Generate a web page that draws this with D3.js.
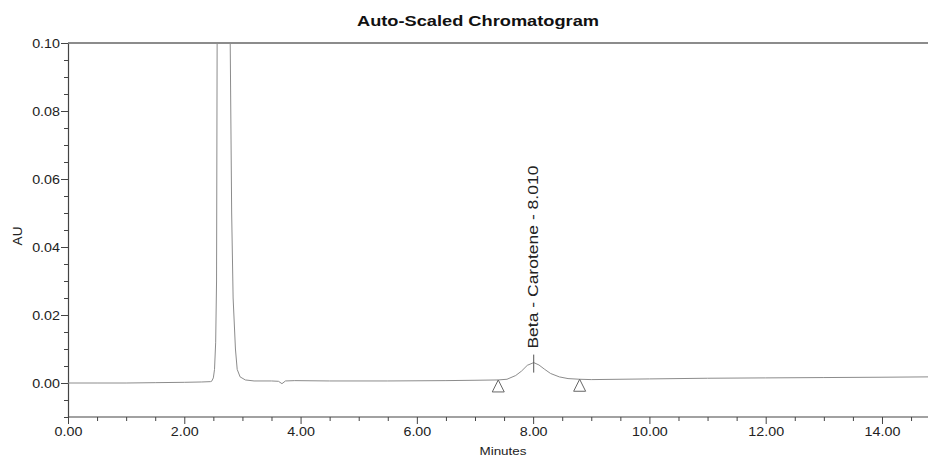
<!DOCTYPE html>
<html>
<head>
<meta charset="utf-8">
<script src="https://cdn.jsdelivr.net/npm/d3@7"></script>
<style>
  html, body { margin: 0; padding: 0; background: #fff; }
  svg { display: block; font-family: "Liberation Sans", Arial, sans-serif; }
</style>
</head>
<body>
<svg id="chart" width="928" height="458"></svg>
<script>
// ---- data ----
const title = "Auto-Scaled Chromatogram";
const xLabel = "Minutes";
const yLabel = "AU";

const timeMin = [0.00, 0.50, 1.00, 1.50, 2.00, 2.30, 2.45, 2.47, 2.50, 2.52, 2.54, 2.555, 2.565, 2.60, 2.68, 2.75, 2.79, 2.815, 2.84, 2.88, 2.91, 2.96, 3.05, 3.20, 3.50, 3.62, 3.68, 3.74, 3.90, 4.50, 5.50, 6.50, 7.00, 7.40, 7.55, 7.70, 7.80, 7.90, 8.01, 8.10, 8.20, 8.30, 8.45, 8.60, 8.80, 9.00, 10.00, 11.00, 12.00, 13.00, 14.00, 14.80];
const absAU   = [0.0000, 0.0000, 0.0000, 0.0001, 0.0002, 0.0003, 0.0004, 0.0005, 0.0015, 0.0040, 0.0120, 0.0300, 0.1000, 0.2000, 0.2500, 0.2000, 0.1000, 0.0500, 0.0250, 0.0100, 0.0040, 0.0018, 0.0009, 0.0006, 0.0006, 0.0005, -0.0002, 0.0006, 0.0007, 0.0006, 0.0006, 0.0007, 0.0008, 0.0009, 0.0011, 0.0022, 0.0035, 0.0052, 0.0060, 0.0053, 0.0040, 0.0028, 0.0018, 0.0013, 0.0011, 0.0010, 0.0012, 0.0014, 0.0015, 0.0016, 0.0017, 0.0018];

const peakNames = ["Beta - Carotene - 8.010"];
const peakTimes = [8.01];
const peakHeights = [0.0060];
const markerTimes = [7.40, 8.80];
const markerAU = [0.0009, 0.0011];

const xMajorTicks = [0, 2, 4, 6, 8, 10, 12, 14];
const yMajorTicks = [0.00, 0.02, 0.04, 0.06, 0.08, 0.10];

// ---- layout ----
const svg = d3.select("#chart");
const mLeft = 68, mRight = 928.5, mTop = 43, mBottom = 417;
const x = d3.scaleLinear().domain([0, 14.8]).range([mLeft, mRight]);
const y = d3.scaleLinear().domain([-0.01, 0.10]).range([mBottom, mTop]);
const stretch = 1.1;

const xMinor = d3.range(0, 14.8, 0.5).filter(v => Math.abs(v % 2) > 1e-9);
const yMinor = d3.range(-0.01, 0.1001, 0.005).filter(v => !yMajorTicks.some(m => Math.abs(m - v) < 1e-9));

// clip
svg.append("defs").append("clipPath").attr("id", "clip")
  .append("rect").attr("x", mLeft).attr("y", mTop).attr("width", 928 - mLeft).attr("height", mBottom - mTop);

// minor ticks
const axisColor = "#444";
svg.append("g").attr("transform", `translate(0,${mBottom})`)
  .call(d3.axisBottom(x).tickValues(xMinor).tickSize(4).tickFormat(""))
  .call(g => g.select(".domain").remove())
  .call(g => g.selectAll("line").attr("stroke", axisColor));
svg.append("g").attr("transform", `translate(${mLeft},0)`)
  .call(d3.axisLeft(y).tickValues(yMinor).tickSize(4).tickFormat(""))
  .call(g => g.select(".domain").remove())
  .call(g => g.selectAll("line").attr("stroke", axisColor));

// major axes
const gx = svg.append("g").attr("transform", `translate(0,${mBottom})`)
  .call(d3.axisBottom(x).tickValues(xMajorTicks).tickSize(7).tickPadding(3).tickFormat(d3.format(".2f")).tickSizeOuter(0));
const gy = svg.append("g").attr("transform", `translate(${mLeft},0)`)
  .call(d3.axisLeft(y).tickValues(yMajorTicks).tickSize(7).tickPadding(1).tickFormat(d3.format(".2f")).tickSizeOuter(0));
[gx, gy].forEach(g => {
  g.select(".domain").attr("stroke", axisColor).attr("stroke-width", 1.2);
  g.selectAll("line").attr("stroke", axisColor);
  g.selectAll("text").attr("fill", "#222").style("font-size", "13px")
    .style("font-family", '"Liberation Sans", Arial, sans-serif');
});
gy.selectAll("text").attr("x", -8 / stretch).attr("transform", `scale(${stretch},1)`);
gx.selectAll("text").attr("transform", `scale(${stretch},1)`);
// extend bottom domain line to the right edge
gx.select(".domain").attr("d", `M${mLeft},0H928`);

// top frame line
svg.append("line").attr("x1", mLeft).attr("x2", 928).attr("y1", mTop).attr("y2", mTop)
  .attr("stroke", "#666").attr("stroke-width", 1.4);

// trace
const pts = timeMin.map((t, i) => [t, absAU[i]]);
svg.append("path").datum(pts)
  .attr("clip-path", "url(#clip)")
  .attr("fill", "none").attr("stroke", "#8c8c8c").attr("stroke-width", 1)
  .attr("d", d3.line().x(d => x(d[0])).y(d => y(d[1])));

// baseline markers (hollow triangles)
markerTimes.forEach((t, i) => {
  const px = x(t), py = y(markerAU[i]);
  svg.append("path")
    .attr("d", `M${px},${py}L${px - 6},${py + 12}L${px + 6},${py + 12}Z`)
    .attr("fill", "none").attr("stroke", "#666").attr("stroke-width", 1);
});

// peak labels
peakNames.forEach((name, i) => {
  const px = x(peakTimes[i]), py = y(peakHeights[i]);
  svg.append("line").attr("x1", px).attr("x2", px).attr("y1", py - 8).attr("y2", py + 10)
    .attr("stroke", "#555").attr("stroke-width", 1);
  svg.append("text")
    .attr("transform", `translate(${px + 4},${py - 14}) rotate(-90)`)
    .attr("text-anchor", "start")
    .style("font-size", "15px").attr("fill", "#222")
    .attr("textLength", 183).attr("lengthAdjust", "spacingAndGlyphs")
    .text(name);
});

// title
svg.append("text").attr("x", 478).attr("y", 26).attr("text-anchor", "middle")
  .style("font-size", "14.5px").style("font-weight", "bold").attr("fill", "#111")
  .attr("textLength", 242).attr("lengthAdjust", "spacingAndGlyphs")
  .text(title);

// axis titles
svg.append("text").attr("x", 503).attr("y", 455).attr("text-anchor", "middle")
  .style("font-size", "11px").attr("fill", "#222")
  .attr("textLength", 47).attr("lengthAdjust", "spacingAndGlyphs")
  .text(xLabel);
svg.append("text").attr("transform", "translate(22,236) rotate(-90)").attr("text-anchor", "middle")
  .style("font-size", "13.5px").attr("fill", "#222")
  .text(yLabel);
</script>
</body>
</html>
